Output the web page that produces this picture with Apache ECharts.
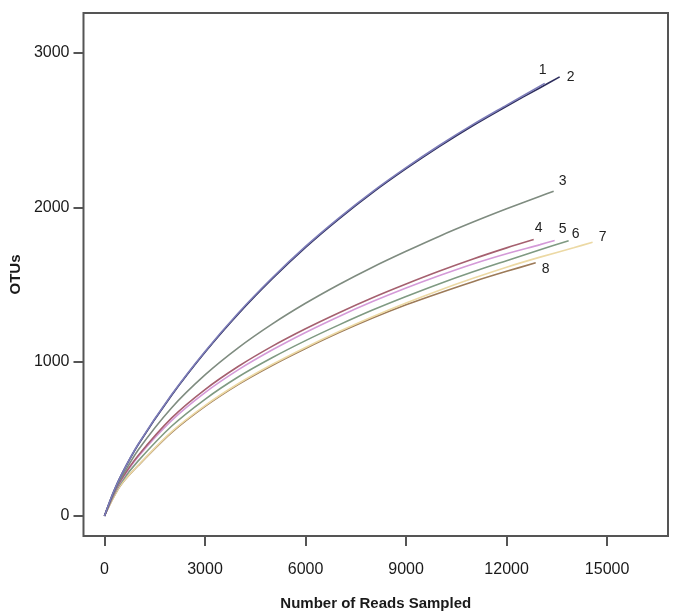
<!DOCTYPE html>
<html>
<head>
<meta charset="utf-8">
<script src="https://cdn.jsdelivr.net/npm/echarts@6/dist/echarts.min.js"></script>
<style>
html,body{margin:0;padding:0;background:#fff;}
#chart{width:677px;height:616px;}
</style>
</head>
<body>
<div id="chart"></div>
<script>
const reads = [0, 250, 500, 1000, 2000, 3000, 4000, 5000, 6000, 7000, 8000, 9000, 10000, 11000, 12000, 13000, 14000];

const otu1 = [0, 145, 265, 463, 785, 1066, 1317, 1542, 1747, 1932, 2102, 2257, 2402, 2537, 2662, null, null];
const otu2 = [0, 145, 265, 460, 780, 1060, 1310, 1535, 1740, 1925, 2095, 2250, 2395, 2530, 2655, 2775, null];
const otu3 = [0, 135, 245, 426, 700, 914, 1091, 1243, 1378, 1500, 1612, 1715, 1813, 1904, 1990, 2072, null];
const otu4 = [0, 130, 235, 390, 634, 819, 970, 1099, 1213, 1317, 1414, 1503, 1587, 1665, 1737, null, null];
const otu5 = [0, 128, 230, 382, 617, 799, 948, 1075, 1189, 1293, 1389, 1477, 1558, 1633, 1699, 1758, null];
const otu6 = [0, 122, 218, 355, 581, 756, 902, 1025, 1136, 1238, 1334, 1422, 1505, 1582, 1654, 1725, null];
const otu7 = [0, 112, 205, 327, 545, 715, 858, 981, 1092, 1195, 1291, 1380, 1463, 1540, 1612, 1677, 1738];
const otu8 = [0, 112, 204, 325, 540, 710, 853, 975, 1085, 1188, 1282, 1368, 1445, 1518, 1585, null, null];

// Final sampling depth and OTU count of each sample
const endReads = [13137, 13584, 13405, 12809, 13435, 13852, 14567, 12869];
const endOtus  = [2803, 2845, 2104, 1791, 1785, 1783, 1773, 1640];

const sampleNames = ['1', '2', '3', '4', '5', '6', '7', '8'];
const xTicks = [0, 3000, 6000, 9000, 12000, 15000];
const yTicks = [0, 1000, 2000, 3000];

const allOtus = [otu1, otu2, otu3, otu4, otu5, otu6, otu7, otu8];
const colors = ['#7c7cb8', '#2d2d5c', '#7f8c80', '#a5606f', '#d49ad8', '#7f9a82', '#ecd9a4', '#9c7a58'];
const labelOffsets = [[-2, -13], [11, 0], [9, -10], [5, -11], [8, -11], [7, -7], [10, -5], [10, 6]];

const FONT = 'Liberation Sans, Arial, sans-serif';

const series = allOtus.map((vals, i) => {
  const data = [];
  reads.forEach((r, k) => { if (vals[k] !== null && r < endReads[i]) data.push([r, vals[k]]); });
  data.push([endReads[i], endOtus[i]]);
  return {
    name: sampleNames[i],
    type: 'line',
    data: data,
    showSymbol: false,
    symbol: 'none',
    smooth: 0.3,
    lineStyle: { color: colors[i], width: 1.6 },
    z: 10 - i,
    markPoint: {
      symbol: 'circle',
      symbolSize: 1,
      itemStyle: { color: 'rgba(0,0,0,0)' },
      label: {
        show: true,
        formatter: sampleNames[i],
        position: 'inside',
        offset: labelOffsets[i],
        color: '#222',
        fontFamily: FONT,
        fontSize: 14
      },
      data: [{ coord: [endReads[i], endOtus[i]] }]
    }
  };
});

const chart = echarts.init(document.getElementById('chart'), null, { renderer: 'canvas' });
chart.setOption({
  animation: false,
  backgroundColor: '#fff',
  grid: { left: 82, top: 13, width: 586, height: 523, show: true, borderColor: '#555', borderWidth: 2, backgroundColor: 'transparent' },
  xAxis: {
    type: 'value', min: -626, max: 16817,
    axisLine: { show: false, onZero: false },
    axisTick: { show: true, length: 10, inside: false, customValues: xTicks, lineStyle: { color: '#555', width: 2 } },
    axisLabel: { margin: 26, color: '#1a1a1a', fontFamily: FONT, fontSize: 16, customValues: xTicks,
      formatter: v => String(v) },
    splitLine: { show: false },
    name: 'Number of Reads Sampled',
    nameLocation: 'middle',
    nameGap: 60,
    nameTextStyle: { fontFamily: FONT, fontWeight: 'bold', fontSize: 15, color: '#1a1a1a' }
  },
  yAxis: {
    type: 'value', min: -130, max: 3259,
    axisLine: { show: false, onZero: false },
    axisTick: { show: true, length: 10, inside: false, customValues: yTicks, lineStyle: { color: '#555', width: 2 } },
    axisLabel: { margin: 14, color: '#1a1a1a', fontFamily: FONT, fontSize: 16, customValues: yTicks,
      formatter: v => String(v) },
    splitLine: { show: false },
    name: 'OTUs',
    nameLocation: 'middle',
    nameGap: 60,
    nameRotate: 90,
    nameTextStyle: { fontFamily: FONT, fontWeight: 'bold', fontSize: 15, color: '#1a1a1a' }
  },
  series: series
});
</script>
</body>
</html>
